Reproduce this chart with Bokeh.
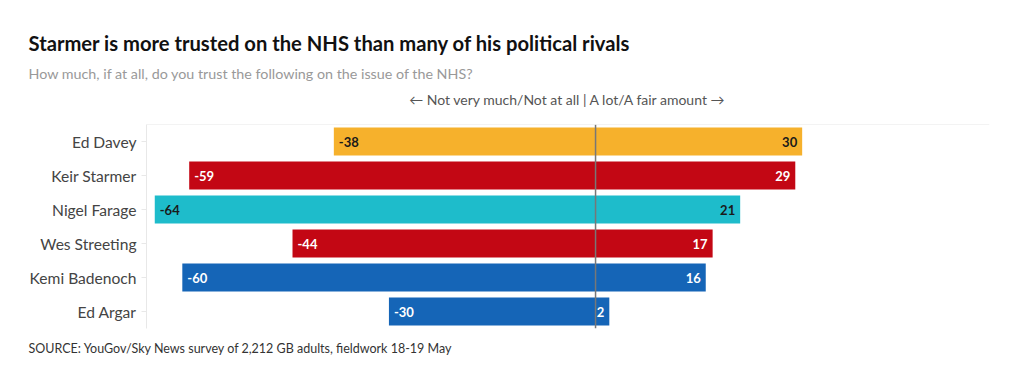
from bokeh.plotting import figure
from bokeh.models import FactorRange, Span, Title, ColumnDataSource, Range1d
from bokeh.embed import file_html
from bokeh.resources import INLINE
from bokeh.core.properties import value

names = ["Ed Davey", "Keir Starmer", "Nigel Farage", "Wes Streeting", "Kemi Badenoch", "Ed Argar"]
distrust = [-38, -59, -64, -44, -60, -30]
trust = [30, 29, 21, 17, 16, 2]
colors = ["#F6B12C", "#C30714", "#1EBCCB", "#C30714", "#1565B7", "#1565B7"]
label_colors = ["#1a1a1a", "#ffffff", "#1a1a1a", "#ffffff", "#ffffff", "#ffffff"]

FONT = "Lato"

src = ColumnDataSource(dict(
    name=names, neg=distrust, pos=trust, color=colors, lc=label_colors,
    neg_txt=[str(v) for v in distrust], pos_txt=[str(v) for v in trust],
))

p = figure(width=1004, height=365, y_range=FactorRange(*names[::-1], range_padding=0),
           x_range=Range1d(-65.2, 57.2), output_backend="svg", toolbar_location=None,
           title=None, min_border_left=146, min_border_right=15, min_border_bottom=37,
           min_border_top=124)

p.hbar(y="name", left="neg", right="pos", height=0.82, fill_color="color",
       line_color=None, source=src)

p.text(x="neg", y="name", text="neg_txt", x_offset=5, text_align="left",
       text_baseline="middle", text_color="lc", text_font=value(FONT),
       text_font_style="bold", text_font_size="13px", source=src)
p.text(x="pos", y="name", text="pos_txt", x_offset=-5, text_align="right",
       text_baseline="middle", text_color="lc", text_font=value(FONT),
       text_font_style="bold", text_font_size="13px", source=src)

p.add_layout(Span(location=0, dimension="height", line_color="#777777", line_width=1.5))
p.add_layout(Span(location=len(names), dimension="width", line_color="#e8e8e8", line_width=1))

p.xaxis.visible = False
p.xgrid.visible = False
p.ygrid.visible = False
p.outline_line_color = None

ax = p.yaxis[0]
ax.axis_line_color = "#e8e8e8"
ax.major_tick_line_color = "#e8e8e8"
ax.major_tick_out = 5
ax.major_tick_in = 0
ax.minor_tick_line_color = None
ax.major_label_standoff = 5
ax.major_label_text_color = "#444444"
ax.major_label_text_font = FONT
ax.major_label_text_font_size = "15.6px"

note = Title(text="\u2190 Not very much/Not at all | A lot/A fair amount \u2192", align="center",
             text_font=FONT, text_font_size="14px", text_color="#555555",
             text_font_style="normal", standoff=34)
sub = Title(text="How much, if at all, do you trust the following on the issue of the NHS?",
            align="left", offset=-118, text_font=FONT, text_font_size="14.3px",
            text_color="#999999", text_font_style="normal", standoff=-20)
ttl = Title(text="Starmer is more trusted on the NHS than many of his political rivals",
            align="left", offset=-118, text_font=FONT, text_font_size="20.2px",
            text_color="#111111", text_font_style="bold", standoff=33)
p.add_layout(note, "above")
p.add_layout(sub, "above")
p.add_layout(ttl, "above")

source_t = Title(text="SOURCE: YouGov/Sky News survey of 2,212 GB adults, fieldwork 18-19 May",
                 align="left", offset=-118, text_font=FONT, text_font_size="12.5px",
                 text_color="#333333", text_font_style="normal", standoff=20)
p.add_layout(source_t, "below")

p.background_fill_color = "white"
p.border_fill_color = "white"

open("out.html", "w").write(file_html(p, INLINE))
